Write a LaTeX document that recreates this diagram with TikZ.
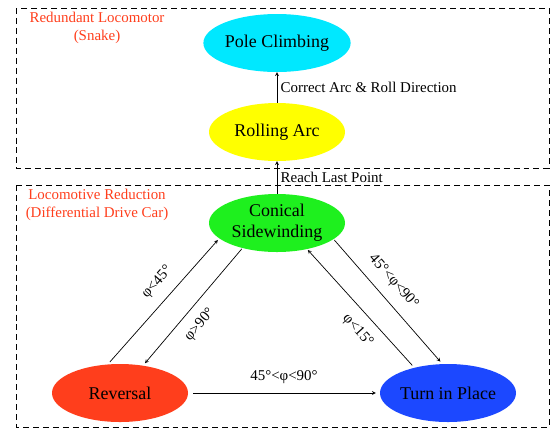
\documentclass[tikz,border=0pt]{standalone}
\usepackage{fontspec}
\setmainfont{Liberation Serif}
\usetikzlibrary{positioning, shapes.geometric}
\definecolor{xcyan}{RGB}{0,232,255}
\definecolor{xyellow}{RGB}{255,255,0}
\definecolor{xgreen}{RGB}{30,240,30}
\definecolor{xred}{RGB}{255,62,28}
\definecolor{xblue}{RGB}{28,72,255}
\tikzset{
	arrow/.style={->, >=stealth, line width=0.7pt},
	state/.style={ellipse, minimum width=136bp, minimum height=58bp, inner sep=0pt, align=center, font=\fontsize{18}{21}\selectfont},
	region/.style={line width=0.9pt, dash pattern=on 6pt off 4pt},
	regionlabel/.style={text=xred, align=center, font=\fontsize{15}{18}\selectfont},
	edgelabel/.style={font=\fontsize{15}{17}\selectfont},
}

\begin{document}
\begin{tikzpicture}[x=1bp, y=-1bp]
		\useasboundingbox (0,0) rectangle (552,429);

		% Redundant locomotor
		\draw[region] (16,8) rectangle (549,168);
		\node[regionlabel] (snake) at (97,28) {Redundant Locomotor\\(Snake)};
		\node[state, fill=xcyan] (pole) at (277,43) {Pole Climbing};
		\node[state, fill=xyellow] (roll) at (277,132) {Rolling Arc};

		\draw[arrow] (roll) to node[midway, right, edgelabel] {Correct Arc \& Roll Direction} (pole);

		% Locomotive reduction
		\draw[region] (16,185) rectangle (549,427);
		\node[regionlabel] (car) at (97,205) {Locomotive Reduction\\(Differential Drive Car)};
		\node[state, fill=xgreen] (cone) at (277,223) {Conical\\Sidewinding};
		\node[state, fill=xred] (rev) at (120,393) {Reversal};
		\node[state, fill=xblue] (turn) at (448,393) {Turn in Place};

		\draw[arrow] (cone) to node[midway, right, edgelabel] {Reach Last Point} (roll);

		\draw[arrow, shorten <=3bp, shorten >=2bp] (rev.113) to node[pos=0.56, sloped, above=7bp, edgelabel] {φ<45°} (cone.195);
		\draw[arrow, shorten <=1bp, shorten >=3bp] (cone.216) to node[pos=0.56, sloped, below=7bp, edgelabel] {φ>90°} (rev.50);
		\draw[arrow, shorten <=1bp, shorten >=3bp] (cone.344) to node[pos=0.43, sloped, above=7bp, edgelabel] {45°<φ<90°} (turn.101);
		\draw[arrow, shorten <=3bp, shorten >=1bp] (turn.143) to node[pos=0.41, sloped, below=7bp, edgelabel] {φ<15°} (cone.319);

		\draw[arrow, shorten <=5bp, shorten >=4bp] (rev) to node[midway, above=6bp, edgelabel] {45°<φ<90°} (turn);
	\end{tikzpicture}
\end{document}
